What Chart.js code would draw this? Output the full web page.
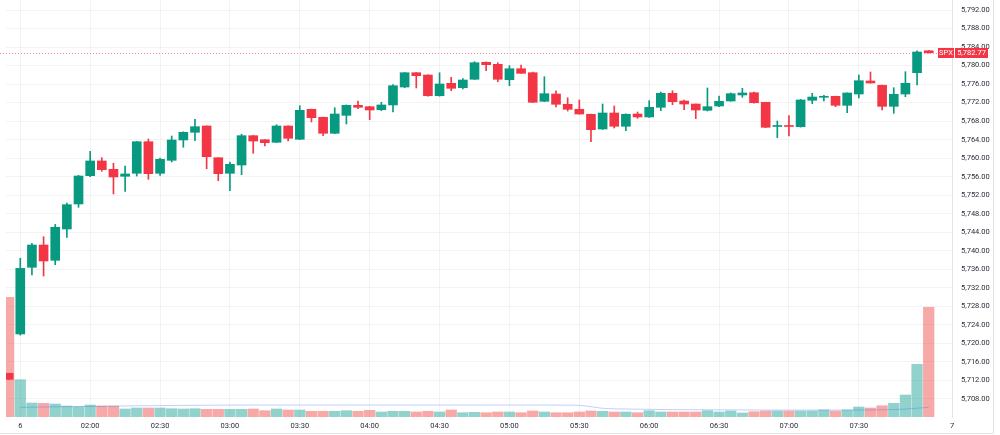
<!DOCTYPE html>
<html>
<head>
<meta charset="utf-8">
<script src="https://cdn.jsdelivr.net/npm/chart.js@4.4.0/dist/chart.umd.min.js"></script>
<style>
  html, body { margin: 0; padding: 0; background: #fff; }
  #wrap { width: 1000px; height: 435px; position: relative; }
</style>
</head>
<body>
<div id="wrap"><canvas id="spx"></canvas></div>
<script>
// 5 min candles, index 0 = pre-open bar, index 1 = session start
const open = [5713.55,5722.04,5736.44,5741.25,5737.95,5744.71,5750.11,5756.22,5759.4,5757.6,
  5756.09,5756.74,5763.56,5756.74,5759.54,5763.93,5765.59,5766.95,5760.1,5756.74,
  5758.53,5764.86,5763.99,5763.43,5766.95,5764.08,5770.56,5768.83,5765.38,5769.26,
  5771.42,5771.12,5770.47,5771.49,5775.37,5778.46,5777.96,5773.49,5776.17,5775.22,
  5777.04,5780.71,5780.27,5776.95,5779.32,5778.46,5772.29,5773.86,5771.64,5770.56,
  5769.48,5766.3,5769.76,5766.89,5769.54,5768.9,5770.99,5774.01,5772.35,5771.7,
  5770.34,5771.27,5772.35,5773.65,5774.14,5772.07,5766.85,5766.95,5766.8,5772.5,
  5773.15,5773.36,5771.42,5773.86,5776.67,5775.74,5771.2,5773.86,5778.46,5783.2];
const high = [5713.55,5738.4,5741.6,5743.05,5745.7,5750.3,5756.3,5761.49,5760.1,5758.9,
  5758.31,5763.6,5764.14,5760.0,5764.79,5765.7,5768.4,5767.0,5760.1,5759.18,
  5765.16,5764.9,5764.0,5767.23,5767.0,5771.33,5770.6,5768.9,5770.9,5771.5,
  5772.35,5771.2,5772.07,5775.87,5778.5,5778.5,5778.0,5778.46,5777.47,5777.17,
  5780.84,5780.8,5780.62,5779.97,5780.12,5778.6,5777.6,5774.57,5773.06,5772.57,
  5769.5,5771.7,5771.27,5769.6,5769.97,5772.42,5774.29,5774.57,5772.57,5771.7,
  5775.16,5773.43,5774.1,5775.09,5774.3,5772.1,5768.03,5769.18,5772.7,5774.01,
  5773.58,5773.4,5774.1,5777.96,5778.61,5775.8,5775.22,5778.68,5783.21,5783.25];
const low = [5712.25,5721.8,5734.78,5734.56,5737.0,5742.9,5749.4,5756.0,5757.17,5752.27,
  5752.85,5756.15,5755.44,5756.3,5759.18,5762.35,5763.78,5757.73,5755.14,5752.98,
  5756.44,5761.06,5762.63,5763.4,5763.71,5764.0,5767.82,5764.86,5765.3,5767.38,
  5770.69,5768.31,5770.26,5769.97,5775.22,5775.16,5773.4,5773.4,5774.57,5774.94,
  5777.0,5778.89,5776.52,5775.65,5778.3,5772.0,5772.2,5771.05,5770.19,5769.5,
  5763.56,5766.2,5766.52,5765.94,5768.61,5768.8,5770.26,5771.55,5770.47,5768.53,
  5770.19,5771.12,5772.3,5773.15,5771.9,5766.6,5764.42,5764.79,5766.7,5771.77,
  5772.35,5771.12,5769.82,5773.0,5776.2,5770.41,5769.69,5773.28,5775.8,5782.7];
const close = [5712.25,5736.2,5741.25,5737.8,5745.08,5749.96,5756.15,5759.4,5757.52,5755.94,
  5756.59,5763.56,5756.65,5759.76,5763.93,5765.59,5766.8,5760.32,5756.65,5758.68,
  5764.86,5763.71,5763.35,5766.95,5764.3,5770.34,5768.74,5765.38,5769.54,5771.42,
  5770.99,5770.41,5771.49,5775.65,5778.46,5777.81,5773.49,5776.02,5775.09,5776.88,
  5780.62,5780.19,5777.04,5779.32,5778.33,5772.07,5773.93,5771.64,5770.56,5769.54,
  5766.15,5769.76,5766.89,5769.48,5768.9,5770.99,5774.01,5772.2,5771.7,5770.41,
  5771.12,5772.29,5773.93,5774.08,5771.98,5766.67,5766.95,5766.85,5772.57,5773.21,
  5773.3,5771.42,5774.08,5776.73,5776.24,5771.2,5773.8,5776.17,5782.93,5782.77];
// volume, relative units
const volume = [119.7,37.3,14,13.7,13,11,10.3,12,11,11,
  8,9,9,9,8.3,8,8.3,7.7,7.7,7.7,
  7.7,8,6.3,8,7,7,5.7,5.7,5.7,6.3,
  5.7,6.7,5,5.7,5.7,5,5.7,5,7,4.3,
  4.7,4.3,5,5,4.3,6,5,4.3,4.3,5,
  6,5.7,5,5,4.3,6.3,5,5,5,5,
  6.3,5,6,4,5.3,6,6,6,6,6,
  7,6,7,10,9,11.3,13.7,22,52.7,109.7];
const volumeMA = [null,9.7,9.8,10,10.2,10.3,10.4,10.5,10.7,10.8,
  11,11.2,11.3,11.4,11.5,11.6,11.7,11.8,11.8,11.9,
  11.9,12,12,12,12,12,12,12,12,12,
  12,12,12,12,12,12,12,12,12,12,
  12,12,12,12,12,12,12,11.9,11.8,11.7,
  10.3,8.7,8.2,8,7.8,7.7,7.5,7.4,7.3,7.3,
  7.2,7.2,7.1,7.1,7,7,7,7,7,7,
  7,7,7,7,7,7.2,7.5,8,8.8,9.7];

const tickPos = [1, 7, 13, 19, 25, 31, 37, 43, 49, 55, 61, 67, 73, 81];
const tickText = ['6','02:00','02:30','03:00','03:30','04:00','04:30','05:00','05:30','06:00','06:30','07:00','07:30','7'];
const priceTicks = [];
for (let p = 5708; p <= 5792; p += 4) priceTicks.push(p);

const upColor = '#089981';
const downColor = '#F23645';
const isUp = open.map((o, i) => close[i] >= o);
const candleColors = isUp.map(u => u ? upColor : downColor);
const volColors = isUp.map(u => u ? 'rgba(38,166,154,0.5)' : 'rgba(239,83,80,0.5)');
const lastPrice = close[close.length - 1];

const gridColor = 'rgba(42,46,57,0.06)';
const tickFont = { family: 'Roboto, sans-serif', size: 7.5 };
const textColor = '#2a2e39';

const lastPricePlugin = {
    id: 'lastPrice',
    beforeDatasetsDraw(chart) {
        const { ctx, chartArea, scales } = chart;
        const y = Math.round(scales.y.getPixelForValue(lastPrice)) + 0.5;
        ctx.save();
        ctx.strokeStyle = 'rgba(242,54,69,0.55)';
        ctx.lineWidth = 1;
        ctx.setLineDash([1, 2]);
        ctx.beginPath();
        ctx.moveTo(0, y);
        ctx.lineTo(chartArea.right - 15, y);
        ctx.stroke();
        ctx.restore();
    },
    afterDraw(chart) {
        const { ctx, scales } = chart;
        const y = Math.round(scales.y.getPixelForValue(lastPrice));
        ctx.save();
        ctx.fillStyle = downColor;
        ctx.fillRect(938, y - 5, 16, 10);
        ctx.fillRect(955, y - 5, 33, 10);
        ctx.fillStyle = '#fff';
        ctx.font = '7.5px Roboto, sans-serif';
        ctx.textBaseline = 'middle';
        ctx.textAlign = 'center';
        ctx.fillText('SPX', 946, y + 0.5);
        ctx.fillText(lastPrice.toLocaleString('en-US', { minimumFractionDigits: 2 }), 971.5, y + 0.5);
        // widget frame
        ctx.strokeStyle = '#e0e3eb';
        ctx.beginPath();
        ctx.moveTo(993.5, 0);
        ctx.lineTo(993.5, 433.5);
        ctx.lineTo(0, 433.5);
        ctx.stroke();
        ctx.restore();
    }
};

const idx = open.map((_, i) => i);
const ctx = document.querySelector('#spx').getContext('2d');
new Chart(ctx, {
    type: 'bar',
    data: {
        datasets: [{
            label: 'body',
            data: idx.map(i => ({ x: i, y: [open[i], close[i]] })),
            backgroundColor: candleColors,
            barThickness: 9,
            minBarLength: 1,
            grouped: false,
            yAxisID: 'y',
            order: 0
        }, {
            label: 'wick',
            data: idx.map(i => ({ x: i, y: [low[i], high[i]] })),
            backgroundColor: candleColors,
            barThickness: 1,
            grouped: false,
            yAxisID: 'y',
            order: 1
        }, {
            type: 'line',
            label: 'vol ma',
            data: idx.map(i => ({ x: i, y: volumeMA[i] })),
            borderColor: 'rgba(41,98,255,0.3)',
            borderWidth: 1,
            pointRadius: 0,
            tension: 0.3,
            yAxisID: 'yv',
            order: 3
        }, {
            label: 'volume',
            data: idx.map(i => ({ x: i, y: volume[i] })),
            backgroundColor: volColors,
            barThickness: 10.6,
            grouped: false,
            yAxisID: 'yv',
            order: 4
        }]
    },
    options: {
        responsive: true,
        maintainAspectRatio: false,
        animation: false,
        devicePixelRatio: 1,
        layout: { padding: { left: 6, top: 0, right: 0, bottom: 0 } },
        plugins: {
            legend: { display: false },
            tooltip: { enabled: false }
        },
        scales: {
            x: {
                type: 'linear',
                min: -0.227,
                max: 81,
                offset: false,
                grid: { color: gridColor, drawTicks: false, offset: false },
                border: { display: false },
                ticks: {
                    font: tickFont,
                    color: textColor,
                    padding: 5,
                    autoSkip: false,
                    maxRotation: 0,
                    callback: function (value) {
                        return tickText[tickPos.indexOf(value)];
                    }
                },
                afterBuildTicks: axis => { axis.ticks = tickPos.map(v => ({ value: v })); },
                afterFit: scale => { scale.height = 18; }
            },
            y: {
                position: 'right',
                min: 5704.11,
                max: 5794.16,
                grid: { color: gridColor, drawTicks: false },
                border: { display: true, color: '#e0e3eb' },
                ticks: {
                    font: tickFont,
                    color: textColor,
                    padding: 9,
                    callback: function (value) {
                        return value.toLocaleString('en-US', { minimumFractionDigits: 2 });
                    }
                },
                afterBuildTicks: axis => { axis.ticks = priceTicks.map(v => ({ value: v })); },
                afterFit: scale => {
                    scale.width = 48;
                    scale.paddingTop = 0;
                    scale.paddingBottom = 0;
                }
            },
            yv: {
                display: false,
                min: 0,
                max: 417
            }
        }
    },
    plugins: [lastPricePlugin]
});
</script>
</body>
</html>
